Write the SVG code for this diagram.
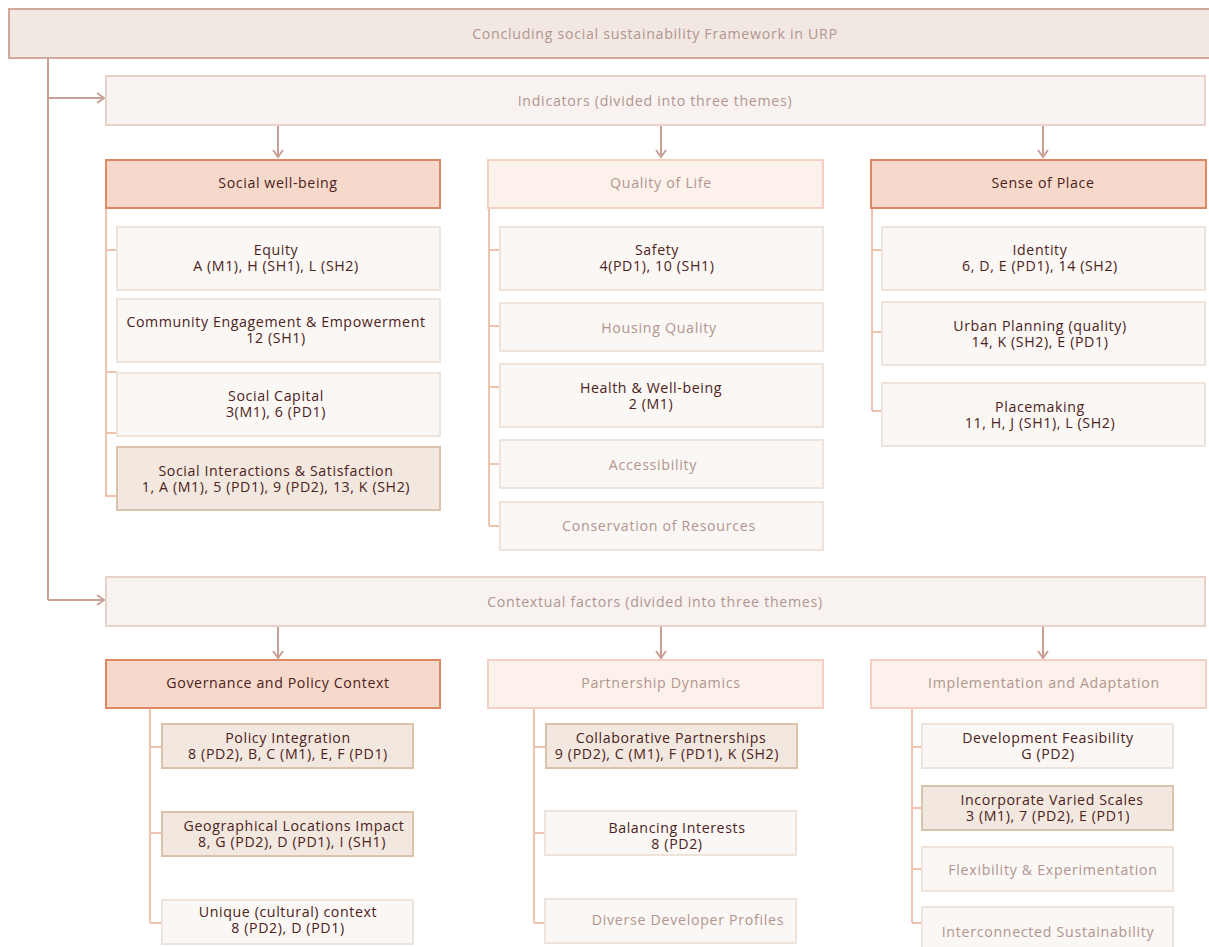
<svg xmlns="http://www.w3.org/2000/svg" width="1209" height="947" viewBox="0 0 1209 947">
<defs>
<marker id="ah" markerWidth="12" markerHeight="12" refX="10" refY="6" orient="auto" markerUnits="userSpaceOnUse">
<path d="M3,1 L10,6 L3,11" fill="none" stroke="#c9a096" stroke-width="2"/>
</marker>
<style>
text{font-family:"Open Sans",Lato,sans-serif;font-size:14.2px;letter-spacing:0.7px;text-anchor:middle}
.dk{fill:#4c221b;font-weight:500;letter-spacing:0.6px}
.lt{fill:#b2958f}
.top{fill:#f2e8e3;stroke:#d2a79c;stroke-width:2}
.band{fill:#f8f3f0;stroke:#e9d2ca;stroke-width:2}
.hot{fill:#f7d9cb;stroke:#de8764;stroke-width:2}
.warm{fill:#fcf1eb;stroke:#f3d0c1;stroke-width:2}
.box{fill:#faf7f4;stroke:#efe4dc;stroke-width:2}
.tan{fill:#f2e8df;stroke:#dbc2ab;stroke-width:2}
.main{fill:none;stroke:#c9a096;stroke-width:2}
.tree{fill:none;stroke:#efc3ae;stroke-width:2}
</style>
</defs>
<g id="connectors">
<path class="main" d="M48,58 V600"/>
<path class="main" d="M48,98 H104" marker-end="url(#ah)"/>
<path class="main" d="M48,600 H104" marker-end="url(#ah)"/>
<path class="main" d="M278,125 V157" marker-end="url(#ah)"/>
<path class="main" d="M661,125 V157" marker-end="url(#ah)"/>
<path class="main" d="M1043,125 V157" marker-end="url(#ah)"/>
<path class="main" d="M278,626 V658" marker-end="url(#ah)"/>
<path class="main" d="M661,626 V658" marker-end="url(#ah)"/>
<path class="main" d="M1043,626 V658" marker-end="url(#ah)"/>
<path class="tree" d="M106,208 V497 M106,250 H117 M106,372 H117 M106,433 H117 M106,496 H117"/>
<path class="tree" d="M489,208 V526 M489,250 H500 M489,326 H500 M489,387 H500 M489,464 H500 M489,526 H500"/>
<path class="tree" d="M872,208 V411 M872,250 H882 M872,332 H882 M872,411 H882"/>
<path class="tree" d="M150,708 V923 M150,747 H162 M150,833 H162 M150,923 H162"/>
<path class="tree" d="M534,708 V923 M534,747 H546 M534,833 H545 M534,923 H545"/>
<path class="tree" d="M912,708 V923 M912,747 H922 M912,808 H922 M912,869 H922 M912,923 H922"/>
</g>
<g id="n-top"><rect class="top" x="9" y="9" width="1210" height="49"/><text class="lt" x="655" y="39">Concluding social sustainability Framework in URP</text></g>
<g id="n-indicators"><rect class="band" x="106" y="76" width="1099" height="49"/><text class="lt" x="655" y="106">Indicators (divided into three themes)</text></g>
<g id="n-social"><rect class="hot" x="106" y="160" width="334" height="48"/><text class="dk" x="278" y="188">Social well-being</text></g>
<g id="n-qol"><rect class="warm" x="488" y="160" width="335" height="48"/><text class="lt" x="661" y="188">Quality of Life</text></g>
<g id="n-sop"><rect class="hot" x="871" y="160" width="335" height="48"/><text class="dk" x="1043" y="188">Sense of Place</text></g>
<g id="n-equity"><rect class="box" x="117" y="227" width="323" height="63"/><text class="dk" x="276" y="255">Equity</text><text class="dk" x="276" y="271">A (M1), H (SH1), L (SH2)</text></g>
<g id="n-community"><rect class="box" x="117" y="299" width="323" height="63"/><text class="dk" x="276" y="327">Community Engagement &amp; Empowerment</text><text class="dk" x="276" y="343">12 (SH1)</text></g>
<g id="n-capital"><rect class="box" x="117" y="373" width="323" height="63"/><text class="dk" x="276" y="401">Social Capital</text><text class="dk" x="276" y="417">3(M1), 6 (PD1)</text></g>
<g id="n-interactions"><rect class="tan" x="117" y="447" width="323" height="63"/><text class="dk" x="276" y="476">Social Interactions &amp; Satisfaction</text><text class="dk" x="276" y="492">1, A (M1), 5 (PD1), 9 (PD2), 13, K (SH2)</text></g>
<g id="n-safety"><rect class="box" x="500" y="227" width="323" height="63"/><text class="dk" x="657" y="255">Safety</text><text class="dk" x="657" y="271">4(PD1), 10 (SH1)</text></g>
<g id="n-housing"><rect class="box" x="500" y="303" width="323" height="48"/><text class="lt" x="659" y="333">Housing Quality</text></g>
<g id="n-health"><rect class="box" x="500" y="364" width="323" height="63"/><text class="dk" x="651" y="393">Health &amp; Well-being</text><text class="dk" x="651" y="409">2 (M1)</text></g>
<g id="n-access"><rect class="box" x="500" y="440" width="323" height="48"/><text class="lt" x="653" y="470">Accessibility</text></g>
<g id="n-conservation"><rect class="box" x="500" y="502" width="323" height="48"/><text class="lt" x="659" y="531">Conservation of Resources</text></g>
<g id="n-identity"><rect class="box" x="882" y="227" width="323" height="63"/><text class="dk" x="1040" y="255">Identity</text><text class="dk" x="1040" y="271">6, D, E (PD1), 14 (SH2)</text></g>
<g id="n-urban"><rect class="box" x="882" y="302" width="323" height="63"/><text class="dk" x="1040" y="331">Urban Planning (quality)</text><text class="dk" x="1040" y="347">14, K (SH2), E (PD1)</text></g>
<g id="n-placemaking"><rect class="box" x="882" y="383" width="323" height="63"/><text class="dk" x="1040" y="412">Placemaking</text><text class="dk" x="1040" y="428">11, H, J  (SH1), L (SH2)</text></g>
<g id="n-contextual"><rect class="band" x="106" y="577" width="1099" height="49"/><text class="lt" x="655" y="607">Contextual factors (divided into three themes)</text></g>
<g id="n-governance"><rect class="hot" x="106" y="660" width="334" height="48"/><text class="dk" x="278" y="688">Governance and Policy Context</text></g>
<g id="n-partnership"><rect class="warm" x="488" y="660" width="335" height="48"/><text class="lt" x="661" y="688">Partnership Dynamics</text></g>
<g id="n-implementation"><rect class="warm" x="871" y="660" width="335" height="48"/><text class="lt" x="1044" y="688">Implementation and Adaptation</text></g>
<g id="n-policy"><rect class="tan" x="162" y="724" width="251" height="44"/><text class="dk" x="288" y="743">Policy Integration</text><text class="dk" x="288" y="759">8 (PD2), B, C (M1), E, F (PD1)</text></g>
<g id="n-geo"><rect class="tan" x="162" y="812" width="251" height="44"/><text class="dk" x="294" y="831">Geographical Locations Impact</text><text class="dk" x="292" y="847">8, G (PD2), D (PD1), I (SH1)</text></g>
<g id="n-unique"><rect class="box" x="162" y="900" width="251" height="44"/><text class="dk" x="288" y="917">Unique (cultural) context</text><text class="dk" x="288" y="933">8 (PD2), D (PD1)</text></g>
<g id="n-collab"><rect class="tan" x="546" y="724" width="251" height="44"/><text class="dk" x="671" y="743">Collaborative Partnerships</text><text class="dk" x="667" y="759">9 (PD2), C (M1), F (PD1), K (SH2)</text></g>
<g id="n-balancing"><rect class="box" x="545" y="811" width="251" height="44"/><text class="dk" x="677" y="833">Balancing Interests</text><text class="dk" x="677" y="849">8 (PD2)</text></g>
<g id="n-diverse"><rect class="box" x="545" y="899" width="251" height="44"/><text class="lt" x="688" y="925">Diverse Developer Profiles</text></g>
<g id="n-devfeas"><rect class="box" x="922" y="724" width="251" height="44"/><text class="dk" x="1048" y="743">Development Feasibility</text><text class="dk" x="1048" y="759">G (PD2)</text></g>
<g id="n-scales"><rect class="tan" x="922" y="786" width="251" height="44"/><text class="dk" x="1052" y="805">Incorporate Varied Scales</text><text class="dk" x="1048" y="821">3 (M1), 7 (PD2), E (PD1)</text></g>
<g id="n-flex"><rect class="box" x="922" y="847" width="251" height="44"/><text class="lt" x="1053" y="875">Flexibility &amp; Experimentation</text></g>
<g id="n-interconnected"><rect class="box" x="922" y="907" width="251" height="44"/><text class="lt" x="1048" y="937">Interconnected Sustainability</text></g>
</svg>
